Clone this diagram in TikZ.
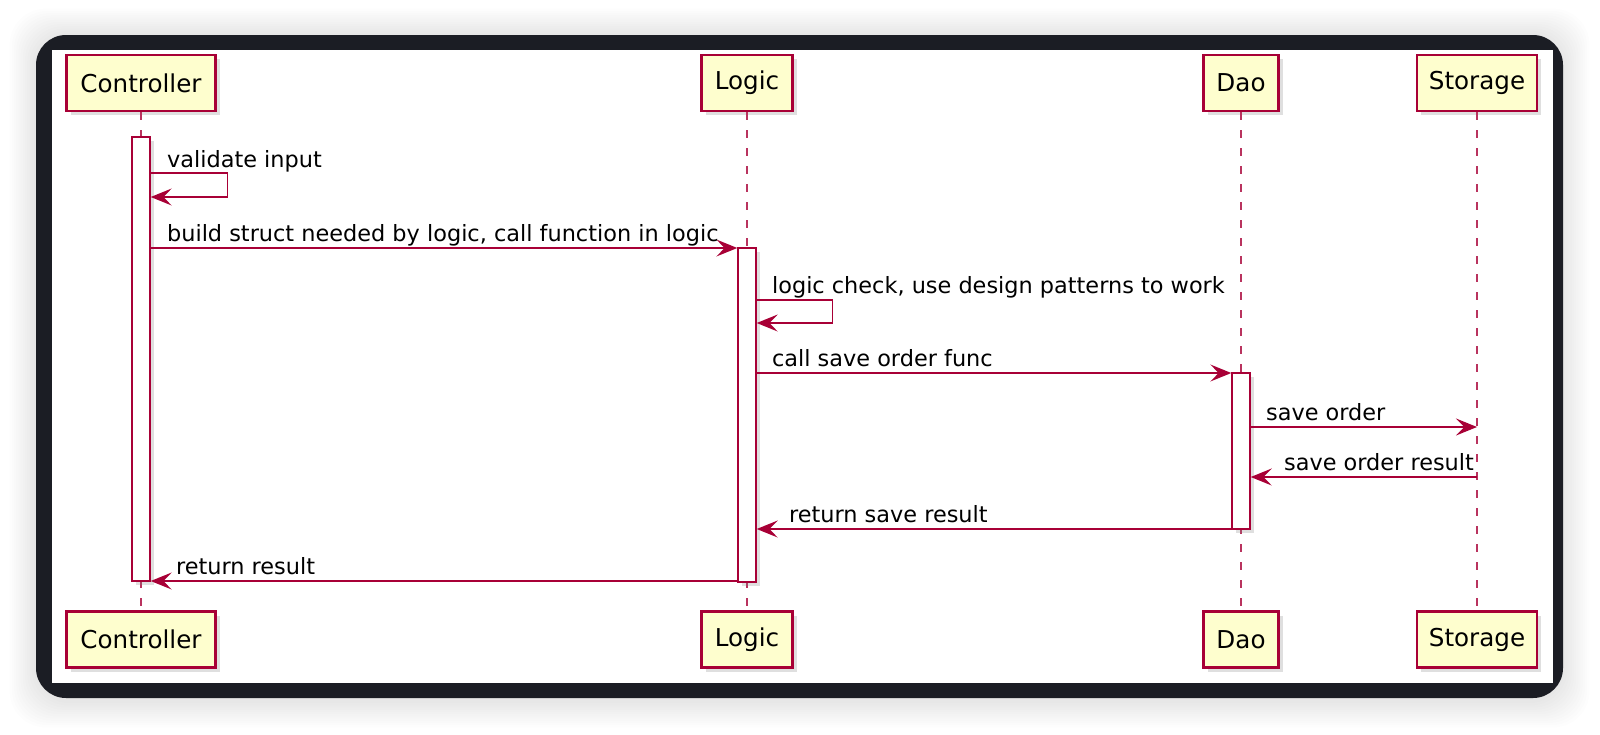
\documentclass[tikz,border=0pt]{standalone}
\usepackage{fontspec}
\setmainfont{DejaVu Sans}
\usetikzlibrary{arrows.meta,shadows,positioning}
\definecolor{umlred}{HTML}{A80036}
\definecolor{umlyellow}{HTML}{FEFECE}
\definecolor{framedark}{HTML}{1B1D24}
\begin{document}
\begin{tikzpicture}[x=0.5pt,y=-0.5pt,
    participant/.style={draw=umlred,fill=umlyellow,line width=1.2pt,minimum height=28pt,inner sep=0pt,
        font=\fontsize{12.3}{14}\selectfont,drop shadow={shadow xshift=2pt,shadow yshift=-2pt,opacity=0.25}},
    lifeline/.style={umlred!80,line width=0.6pt,dash pattern=on 4pt off 5pt},
    activation/.style={draw=umlred,fill=white,line width=0.7pt,minimum width=9pt,inner sep=0pt,
        drop shadow={shadow xshift=2pt,shadow yshift=-2pt,opacity=0.25}},
    msg/.style={umlred,line width=0.7pt,-{Stealth[length=10.5pt,width=8.5pt,inset=4.2pt]}},
    msgtext/.style={anchor=base west,inner sep=0pt,font=\fontsize{11.2}{13}\selectfont}]
    \useasboundingbox (0,0) rectangle (1600,734);
    \foreach \i in {1,...,12}
        \fill[black,opacity=0.008,rounded corners=18pt] (36-2.2*\i,35-2.2*\i) rectangle (1563+2.2*\i,701+2.2*\i);
    \fill[framedark,rounded corners=15pt] (36,35) rectangle (1563,698);
    \fill[white] (52,50) rectangle (1553,683);
    \foreach \name/\x/\w/\txt in {ctrl/141/74.5pt/Controller,logic/747/45.5pt/Logic,dao/1241/37.5pt/Dao,store/1477/60pt/Storage}{
        \node[participant,minimum width=\w] (\name T) at (\x,83) {\txt};
        \node[participant,minimum width=\w] (\name B) at (\x,639.5) {\txt};
        \draw[lifeline] (\name T) -- (\name B);
    }
    \node[activation,minimum height=222pt] (ctrlA) at (141,359) {};
    \node[activation,minimum height=167pt] (logicA) at (747,415) {};
    \node[activation,minimum height=78pt] (daoA) at (1241,451) {};
    \foreach \n/\y in {m1/173,m1r/197,m2/248,m3/300,m3r/323,m4/373,m5/427,m6/477,m7/529,m8/581}
        \coordinate (\n) at (0,\y);
    \draw[msg] (ctrlA.east |- m1) -- ++(77,0) |- (ctrlA.east |- m1r);
    \draw[msg] (ctrlA.east |- m2) -- (logicA.west |- m2);
    \draw[msg] (logicA.east |- m3) -- ++(76,0) |- (logicA.east |- m3r);
    \draw[msg] (logicA.east |- m4) -- (daoA.west |- m4);
    \draw[msg] (daoA.east |- m5) -- (storeT |- m5);
    \draw[msg] (storeT |- m6) -- (daoA.east |- m6);
    \draw[msg] (daoA.west |- m7) -- (logicA.east |- m7);
    \draw[msg] (logicA.west |- m8) -- (ctrlA.east |- m8);
    \node[msgtext,xshift=8pt,yshift=3pt] (t1) at (ctrlA.east |- m1) {validate input};
    \node[msgtext,xshift=8pt,yshift=3.5pt] (t2) at (ctrlA.east |- m2) {build struct needed by logic, call function in logic};
    \node[msgtext,xshift=7.5pt,yshift=3.5pt] (t3) at (logicA.east |- m3) {logic check, use design patterns to work};
    \node[msgtext,xshift=7.5pt,yshift=3.5pt] (t4) at (logicA.east |- m4) {call save order func};
    \node[msgtext,xshift=7.5pt,yshift=3.5pt] (t5) at (daoA.east |- m5) {save order};
    \node[msgtext,xshift=16.5pt,yshift=3.5pt] (t6) at (daoA.east |- m6) {save order result};
    \node[msgtext,xshift=16pt,yshift=3.5pt] (t7) at (logicA.east |- m7) {return save result};
    \node[msgtext,xshift=12.5pt,yshift=3.5pt] (t8) at (ctrlA.east |- m8) {return result};
\end{tikzpicture}
\end{document}
